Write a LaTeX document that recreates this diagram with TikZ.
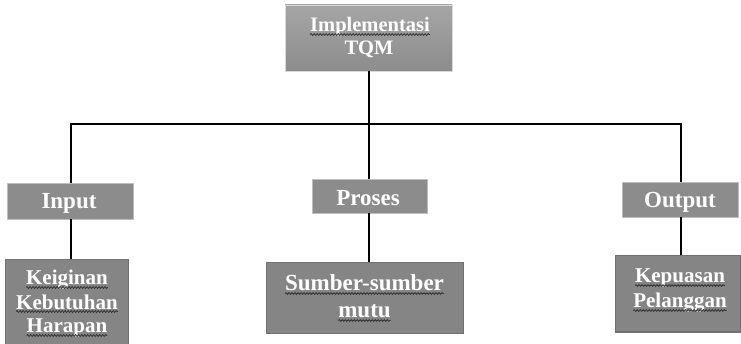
\documentclass[tikz,border=0pt]{standalone}
\usepackage{fontspec}
\setmainfont{Liberation Serif}
\usetikzlibrary{decorations.pathmorphing}
\definecolor{boxgray}{HTML}{8C8C8C}
\definecolor{boxdark}{HTML}{858585}
\definecolor{edgelight}{HTML}{BDBDBD}
\definecolor{edgedark}{HTML}{707070}
\definecolor{wavecol}{HTML}{333333}
\tikzset{
  conn/.style={line width=2pt, black},
  headbox/.style={fill=boxgray, draw=edgelight, line width=0.8pt},
  itembox/.style={fill=boxdark, draw=edgedark, line width=1pt},
  lbl/.style={text=white, inner sep=0pt, outer sep=0pt, anchor=base},
  wave/.style={wavecol, line width=0.8pt, decorate,
    decoration={snake, amplitude=0.9pt, segment length=3pt}},
}
\begin{document}
\begin{tikzpicture}[x=1pt,y=-1pt]
\useasboundingbox (0,0) rectangle (741,344);
% top box with soft vertical shading
\shade[top color=gray!70, bottom color=boxgray, draw=white!85!black, line width=0.8pt]
  (285,5) rectangle (452,71);
\coordinate (tqmb) at (369,71);
\begin{scope}[font=\bfseries\fontsize{20.5}{24}\selectfont]
  \node[lbl] (t1) at (370,32) {Implementasi};
  \node[lbl] (t2) at (369,55) {TQM};
\end{scope}
% branch bar
\coordinate (bl) at (71,124.5);
\coordinate (bm) at (369,124.5);
\coordinate (br) at (681,124.5);
% stage boxes
\node[headbox, minimum width=126pt, minimum height=36pt] (in) at (70,201) {};
\node[headbox, minimum width=115pt, minimum height=34pt] (pr) at (369.5,196) {};
\node[headbox, minimum width=116pt, minimum height=35pt] (out) at (680,199.5) {};
\begin{scope}[font=\bfseries\fontsize{23}{26}\selectfont]
  \node[lbl] (l1) at (69,209) {Input};
  \node[lbl] (l2) at (368,206) {Proses};
  \node[lbl] (l3) at (680,208) {Output};
\end{scope}
% detail boxes
\node[itembox, minimum width=123pt, minimum height=90pt] (k) at (66.5,305) {};
\node[itembox, minimum width=197pt, minimum height=70pt] (s) at (364.5,298) {};
\node[itembox, minimum width=125pt, minimum height=76pt] (kp) at (677.5,294) {};
\begin{scope}[font=\bfseries\fontsize{21}{24}\selectfont]
  \node[lbl] (k1) at (67,285) {Keiginan};
  \node[lbl] (k2) at (67,309) {Kebutuhan};
  \node[lbl] (k3) at (67,333) {Harapan};
  \node[lbl] (p1) at (680,283) {Kepuasan};
  \node[lbl] (p2) at (680,308) {Pelanggan};
\end{scope}
\begin{scope}[font=\bfseries\fontsize{23}{26}\selectfont]
  \node[lbl] (s1) at (364.5,291) {Sumber-sumber};
  \node[lbl] (s2) at (364.5,318) {mutu};
\end{scope}
% wavy underlines
\foreach \w in {t1,k1,k2,k3,s1,s2,p1,p2}
  \draw[wave] ([yshift=-2.5pt]\w.base west) -- ([yshift=-2.5pt]\w.base east);
% connectors
\draw[conn] (tqmb) -- (bm);
\draw[conn] (bl |- in.north) -- (bl) -- (br) -- (br |- out.north);
\draw[conn] (bm) -- (bm |- pr.north);
\draw[conn] (in.south -| bl) -- (k.north -| bl);
\draw[conn] (pr.south -| bm) -- (s.north -| bm);
\draw[conn] (out.south -| br) -- (kp.north -| br);
\end{tikzpicture}
\end{document}
